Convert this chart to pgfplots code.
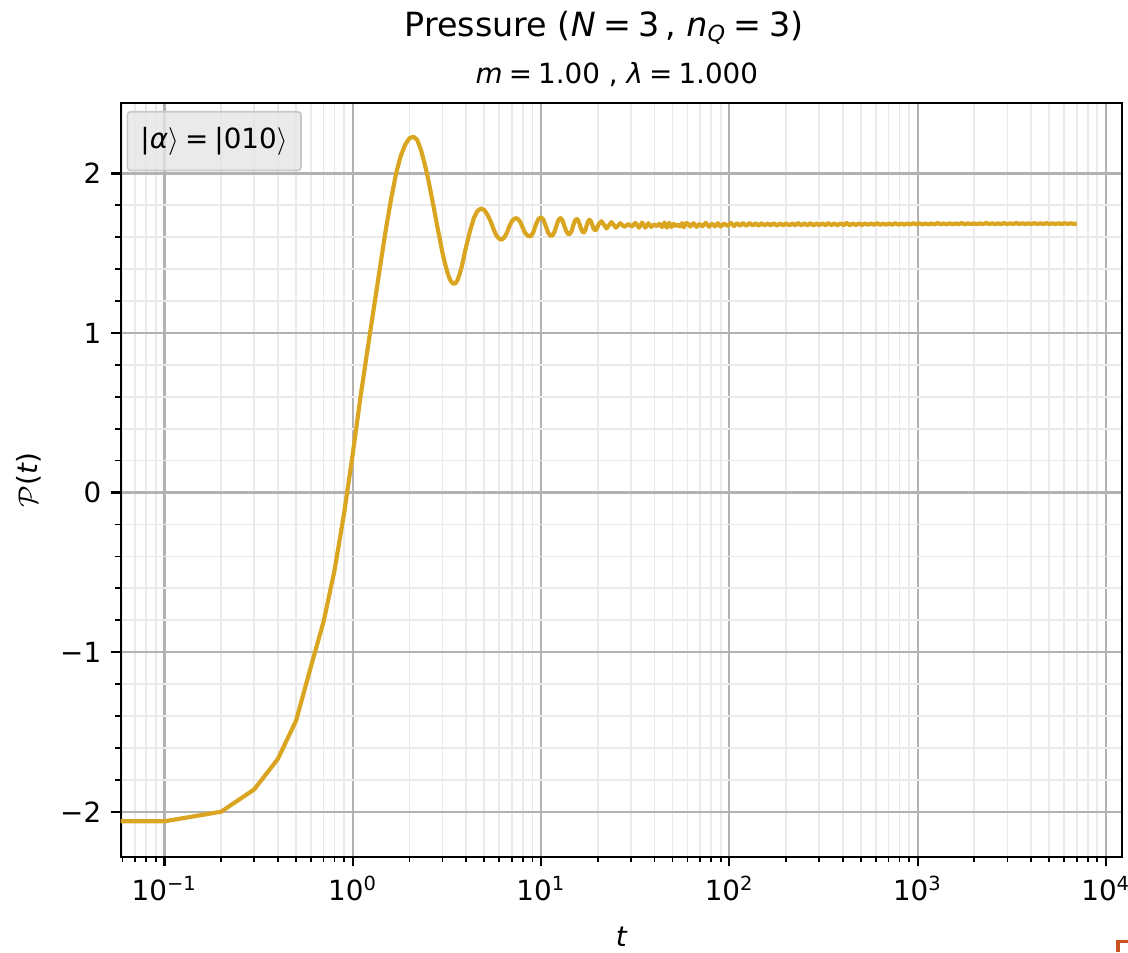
\documentclass[border=0pt]{standalone}
\usepackage{fontspec}
\setmainfont{DejaVu Sans}
\usepackage{pgfplots}
\pgfplotsset{compat=1.18}

\definecolor{curve}{RGB}{218,165,32}
\definecolor{majgrid}{RGB}{178,178,178}
\definecolor{mingrid}{RGB}{234,234,234}
\definecolor{legfill}{RGB}{229,229,229}
\definecolor{legedge}{RGB}{200,200,200}
\definecolor{cornercol}{RGB}{200,82,32}

\newcommand\eq{\hspace{0.22em}=\hspace{0.22em}}

\begin{document}
\begin{tikzpicture}
  \begin{axis}[
      scale only axis,
      width=360.4pt, height=271.2pt,
      xmode=log, log basis x=10,
      xmin=0.0586, xmax=12160,
      ymin=-2.282, ymax=2.439,
      xtick={0.1,1,10,100,1000,10000},
      xticklabels={10\textsuperscript{−1},10\textsuperscript{0},10\textsuperscript{1},10\textsuperscript{2},10\textsuperscript{3},10\textsuperscript{4}},
      minor xtick={0.06,0.07,0.08,0.09,0.2,0.3,0.4,0.5,0.6,0.7,0.8,0.9,2,3,4,5,6,7,8,9,20,30,40,50,60,70,80,90,200,300,400,500,600,700,800,900,2000,3000,4000,5000,6000,7000,8000,9000},
      ytick={-2,-1,0,1,2},
      yticklabels={−2,−1,0,1,2},
      minor y tick num=4,
      grid=both,
      major grid style={draw=majgrid, line width=0.8pt},
      minor grid style={draw=mingrid, line width=0.6pt},
      tick align=outside, tick pos=left,
      major tick length=3.5pt, minor tick length=2pt,
      tick style={black, line width=0.8pt},
      minor tick style={line width=0.6pt},
      axis line style={line width=0.8pt},
      tick label style={font=\fontsize{10}{12}\selectfont},
      xlabel={\itshape t},
      ylabel={\(\mathcal{P}\)({\itshape t})},
      label style={font=\fontsize{10}{12}\selectfont},
      xlabel style={at={(axis description cs:0.5,-0.1185)}, anchor=base},
      ylabel style={at={(axis description cs:-0.0916,0.5)}, anchor=center, rotate=0},
    ]
    % early times, sampled every 0.1
    \addplot[color=curve, line width=1.5pt, line join=round] coordinates {
      (0.001,-2.06) (0.1,-2.06) (0.2,-2.00) (0.3,-1.86) (0.4,-1.67) (0.5,-1.43)
      (0.6,-1.09) (0.7,-0.81) (0.8,-0.49) (0.9,-0.13) (1.0,0.24) (1.1,0.60)
      (1.2,0.90) (1.3,1.17) (1.4,1.42) (1.5,1.65) (1.6,1.84) (1.7,2.00)
      (1.8,2.11) (1.9,2.18) (2.0,2.22) (2.1,2.23) (2.2,2.21) (2.3,2.15)
      (2.4,2.07) (2.5,1.98) (2.6,1.88) (2.7,1.78) (2.8,1.68) (2.9,1.59)
      (3.0,1.50) (3.1,1.43) (3.2,1.37) (3.3,1.33) (3.4,1.31) (3.5,1.31)
      (3.6,1.33) (3.7,1.37) (3.8,1.42) (3.9,1.48) (4.0,1.54) (4.2,1.64)
      (4.4,1.72) (4.6,1.765) (4.8,1.78) (5.0,1.77) (5.2,1.74) (5.4,1.70)
      (5.6,1.65) (5.8,1.61) (6.0,1.59) (6.2,1.585) (6.4,1.60) (6.6,1.63)
      (6.8,1.67) (7.0,1.70) (7.2,1.715) (7.4,1.72) (7.6,1.71) (7.8,1.69)
      (8.0,1.66) (8.2,1.63) (8.5,1.61) (8.8,1.605) (9.1,1.63) (9.4,1.68)
      (9.7,1.715) (10.0,1.725) (10.3,1.71) (10.6,1.67) (10.9,1.63) (11.2,1.61)
      (11.5,1.61) (11.8,1.635) (12.1,1.675) (12.4,1.71) (12.7,1.72) (13.0,1.705)
      (13.3,1.67) (13.6,1.64) (13.9,1.62) (14.2,1.62) (14.5,1.635) (14.8,1.67)
      (15.1,1.70) (15.4,1.715) (15.7,1.71) (16.0,1.685) (16.3,1.655) (16.6,1.635)
      (16.9,1.63) (17.2,1.645) (17.5,1.675) (17.8,1.70) (18.1,1.71) (18.4,1.70)
      (18.7,1.68) (19.0,1.655) (19.3,1.645) (19.6,1.645) (19.9,1.66) (20.2,1.68)
      (20.95,1.700) (22.3,1.655) (23.65,1.695) (25.0,1.660) (26.35,1.688)
      (27.7,1.665) (29.05,1.682) (30.4,1.668) (31.75,1.690) (33.1,1.660)
      (34.45,1.692) (35.8,1.660) (37.15,1.688) (38.5,1.665) (39.85,1.680)
      (41.2,1.670) (42.55,1.684) (43.9,1.664) (45.25,1.692) (46.6,1.660)
      (47.95,1.690) (49.3,1.664) (50.65,1.684) (52.0,1.670) (53.35,1.680)
      (54.7,1.668) (56.05,1.688) (57.4,1.662) (58.75,1.690)
      % late times: oscillation too fast to resolve, thin band
      (60,1.686) (62,1.667) (64.5,1.688) (67,1.665) (69.5,1.684) (72,1.668)
      (75,1.690) (78,1.666) (81,1.685) (84,1.668) (87,1.688) (90,1.667)
      (94,1.686) (98,1.670) (102,1.690) (106,1.670) (110,1.688) (114,1.672)
      (118,1.689) (123,1.671) (128,1.690) (133,1.673) (138,1.687) (143,1.672)
      (148,1.688) (154,1.674) (160,1.686) (166,1.674) (172,1.688) (179,1.673)
      (186,1.686) (193,1.675) (200,1.687) (208,1.674) (216,1.686) (224,1.675)
      (232,1.690) (241,1.674) (250,1.686) (260,1.675) (270,1.688) (280,1.674)
      (290,1.686) (300,1.676) (312,1.687) (324,1.675) (336,1.689) (348,1.676)
      (361,1.686) (375,1.675) (390,1.687) (405,1.676) (420,1.690) (436,1.675)
      (452,1.686) (470,1.677) (488,1.687) (506,1.677) (525,1.685) (545,1.678)
      (565,1.686) (587,1.678) (609,1.688) (632,1.678) (656,1.685) (680,1.679)
      (706,1.686) (733,1.678) (760,1.688) (790,1.679) (820,1.686) (850,1.679)
      (882,1.686) (915,1.680) (950,1.688) (985,1.680) (1020,1.687) (1060,1.680)
      (1100,1.686) (1140,1.681) (1185,1.686) (1230,1.680) (1275,1.689) (1325,1.681)
      (1375,1.686) (1425,1.681) (1480,1.687) (1535,1.681) (1595,1.686) (1655,1.682)
      (1715,1.689) (1780,1.681) (1850,1.687) (1920,1.682) (1990,1.686) (2065,1.682)
      (2145,1.687) (2225,1.682) (2310,1.690) (2395,1.682) (2485,1.687) (2580,1.682)
      (2675,1.687) (2775,1.683) (2880,1.688) (2990,1.682) (3100,1.687) (3220,1.683)
      (3340,1.689) (3465,1.683) (3595,1.687) (3730,1.683) (3870,1.687) (4020,1.683)
      (4170,1.688) (4325,1.683) (4490,1.687) (4660,1.683) (4835,1.688) (5015,1.683)
      (5205,1.687) (5400,1.683) (5605,1.687) (5815,1.683) (6035,1.688) (6260,1.683)
      (6500,1.687) (6750,1.684) (7000,1.685)
    };
  \end{axis}

  % legend box
  \draw[draw=legedge, fill=legfill, fill opacity=0.8, rounded corners=1.2pt, line width=0.6pt]
    (2.4pt,247pt) rectangle (64.9pt,268.2pt);
  \node[font=\fontsize{10}{12}\selectfont, anchor=center] at (33.6pt,257.4pt)
    {|{\itshape α}\(\rangle\)\eq|010\(\rangle\)};

  % titles
  \node[font=\fontsize{12}{14}\selectfont, anchor=base] at (174pt,295.1pt)
    {Pressure ({\itshape N}\eq 3\,, {\itshape n}\textsubscript{\itshape Q}\eq 3)};
  \node[font=\fontsize{10}{12}\selectfont, anchor=base] at (178.6pt,278.5pt)
    {{\itshape m}\eq 1.00 , {\itshape λ}\eq 1.000};

  % corner mark of the screenshot
  \draw[cornercol, line width=1.1pt] (359pt,-34.3pt) -- (359pt,-30.6pt) -- (362.6pt,-30.6pt);

  \pgfresetboundingbox
  \path (-43.45pt,-34.3pt) rectangle (362.6pt,308.4pt);
\end{tikzpicture}
\end{document}
